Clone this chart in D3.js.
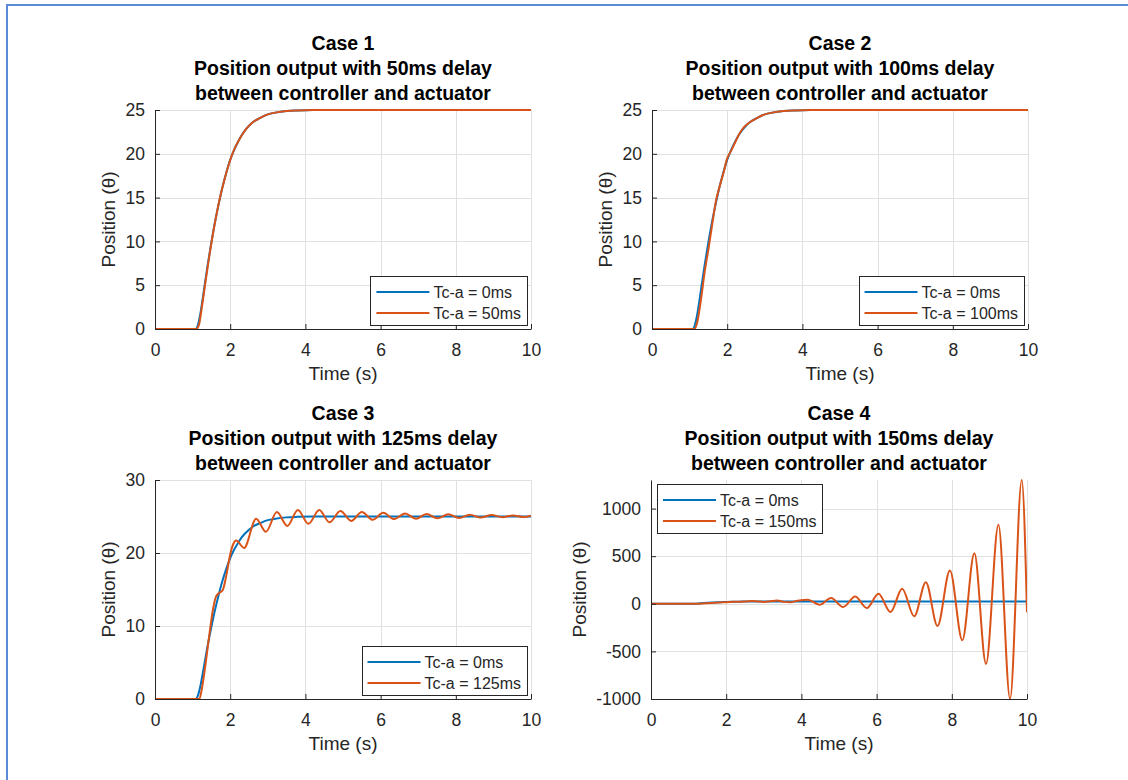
<!DOCTYPE html>
<html>
<head>
<meta charset="utf-8">
<script src="https://cdn.jsdelivr.net/npm/d3@7"></script>
<style>
  body { margin: 0; background: #ffffff; }
  svg { display: block; font-family: "Liberation Sans", Arial, Helvetica, sans-serif; }
</style>
</head>
<body>
<svg id="fig" width="1128" height="780"></svg>
<script>
// ---- Data -------------------------------------------------------------
const xTicks = [0, 2, 4, 6, 8, 10];

// Response with no controller-actuator delay (same in every case)
const baseTime  = [0, 1.0, 1.08, 1.15, 1.2, 1.3, 1.4, 1.5, 1.6, 1.7, 1.8, 1.9, 2.0, 2.1, 2.2, 2.3, 2.4, 2.5, 2.6, 2.8, 3.0, 3.2, 3.5, 3.8, 4.2, 5.0, 6.0, 8.0, 10.0];
const baseTheta = [0, 0, 0, 0.6, 1.6, 4.4, 7.3, 9.9, 12.3, 14.4, 16.3, 17.9, 19.3, 20.4, 21.3, 22.1, 22.7, 23.2, 23.6, 24.1, 24.5, 24.7, 24.88, 24.95, 24.99, 25, 25, 25, 25];

// Case 1: 50 ms delay
const case1Time  = [0, 1.1, 1.17, 1.25, 1.35, 1.45, 1.55, 1.65, 1.75, 1.85, 1.95, 2.05, 2.15, 2.25, 2.4, 2.6, 2.8, 3.0, 3.2, 3.5, 3.8, 4.2, 5, 10];
const case1Theta = [0, 0, 0.5, 2.6, 5.6, 8.5, 11.1, 13.4, 15.4, 17.1, 18.6, 19.9, 20.9, 21.7, 22.7, 23.6, 24.1, 24.5, 24.7, 24.88, 24.95, 24.99, 25, 25];

// Case 2: 100 ms delay
const case2Time  = [0, 1.13, 1.2, 1.3, 1.4, 1.5, 1.6, 1.7, 1.8, 1.9, 2.0, 2.1, 2.2, 2.3, 2.4, 2.6, 2.8, 3.0, 3.2, 3.5, 3.8, 4.2, 5, 10];
const case2Theta = [0, 0, 0.7, 3.3, 6.5, 9.1, 11.9, 14.6, 16.3, 17.8, 19.5, 20.3, 21.2, 22.1, 22.8, 23.6, 24.1, 24.5, 24.7, 24.88, 24.95, 24.99, 25, 25];

// Case 3: 125 ms delay
const case3Time  = [0, 1.18, 1.25, 1.35, 1.45, 1.55, 1.62, 1.7, 1.8, 1.9, 2.0, 2.08, 2.16, 2.37, 2.69, 2.95, 3.24, 3.52, 3.8, 4.08, 4.37, 4.64, 4.93, 5.22, 5.5, 5.79, 6.07, 6.36, 6.65, 6.94, 7.22, 7.51, 7.8, 8.09, 8.37, 8.66, 8.95, 9.24, 9.52, 9.81, 10];
const case3Theta = [0, 0, 1.5, 5, 9, 12.5, 14.0, 14.5, 14.9, 17, 19.8, 21.2, 21.7, 20.7, 24.7, 22.9, 25.6, 23.7, 25.9, 24.0, 25.9, 24.2, 25.75, 24.4, 25.6, 24.55, 25.5, 24.65, 25.4, 24.7, 25.35, 24.75, 25.3, 24.8, 25.25, 24.85, 25.2, 24.9, 25.15, 24.92, 25.1];

// Case 4: 150 ms delay
const case4Time  = [0, 1.15, 1.3, 1.5, 1.7, 1.9, 2.1, 2.3, 2.5, 2.7, 2.85, 3.0, 3.2, 3.35, 3.55, 3.7, 3.9, 4.17, 4.48, 4.79, 5.11, 5.43, 5.74, 6.05, 6.37, 6.68, 7.0, 7.31, 7.62, 7.95, 8.28, 8.6, 8.91, 9.24, 9.55, 9.86, 10.0];
const case4Theta = [0, 0, 1, 6, 12, 17, 20, 22, 25, 30, 24, 20, 28, 34, 20, 16, 33, 43, -10, 60, -34, 77, -45, 105, -87, 158, -132, 227, -233, 349, -383, 530, -631, 830, -1000, 1300, -90];

const caseTitles = ["Case 1", "Case 2", "Case 3", "Case 4"];
const delayLabels = ["50ms", "100ms", "125ms", "150ms"];
const legendLabels = [
  ["Tc-a = 0ms", "Tc-a = 50ms"],
  ["Tc-a = 0ms", "Tc-a = 100ms"],
  ["Tc-a = 0ms", "Tc-a = 125ms"],
  ["Tc-a = 0ms", "Tc-a = 150ms"]
];
const yTicks = [
  [0, 5, 10, 15, 20, 25],
  [0, 5, 10, 15, 20, 25],
  [0, 10, 20, 30],
  [-1000, -500, 0, 500, 1000]
];
const yDomains = [[0, 25], [0, 25], [0, 30], [-1000, 1300]];
const delayedTimes  = [case1Time, case2Time, case3Time, case4Time];
const delayedThetas = [case1Theta, case2Theta, case3Theta, case4Theta];

// ---- Layout -----------------------------------------------------------
const panels = [
  { left: 155, top: 110, right: 531, bottom: 329, legend: "se" },
  { left: 652, top: 110, right: 1028, bottom: 329, legend: "se" },
  { left: 155, top: 480, right: 531, bottom: 699, legend: "se" },
  { left: 651, top: 480, right: 1027, bottom: 699, legend: "nw" }
];

const COLORS = ["#0072BD", "#D95319"];
const AXIS_COLOR = "#262626";
const GRID_COLOR = "#e0e0e0";

const svg = d3.select("#fig");

// Frame lines along the top and left edges
svg.append("line").attr("x1", 6).attr("x2", 1128).attr("y1", 5).attr("y2", 5)
  .attr("stroke", "#5b8ad6").attr("stroke-width", 2);
svg.append("line").attr("x1", 7).attr("x2", 7).attr("y1", 4).attr("y2", 780)
  .attr("stroke", "#5b8ad6").attr("stroke-width", 2);

const toPoints = (ts, vs) => ts.map((t, i) => ({ t: t, v: vs[i] }));

panels.forEach((p, i) => {
  const g = svg.append("g");
  const x = d3.scaleLinear().domain([0, 10]).range([p.left, p.right]);
  const y = d3.scaleLinear().domain(yDomains[i]).range([p.bottom, p.top]);

  // grid
  g.append("g").selectAll("line").data(xTicks).join("line")
    .attr("x1", d => Math.round(x(d)) + 0.5).attr("x2", d => Math.round(x(d)) + 0.5)
    .attr("y1", p.top).attr("y2", p.bottom)
    .attr("stroke", GRID_COLOR).attr("stroke-width", 1);
  g.append("g").selectAll("line").data(yTicks[i]).join("line")
    .attr("y1", d => Math.round(y(d)) + 0.5).attr("y2", d => Math.round(y(d)) + 0.5)
    .attr("x1", p.left).attr("x2", p.right)
    .attr("stroke", GRID_COLOR).attr("stroke-width", 1);

  // data lines
  const clipId = "clip" + i;
  svg.append("clipPath").attr("id", clipId).append("rect")
    .attr("x", p.left).attr("y", p.top - 1).attr("width", p.right - p.left).attr("height", p.bottom - p.top + 2);
  const line = d3.line().x(d => x(d.t)).y(d => y(d.v)).curve(d3.curveMonotoneX);
  const series = [toPoints(baseTime, baseTheta), toPoints(delayedTimes[i], delayedThetas[i])];
  const lg = g.append("g").attr("clip-path", `url(#${clipId})`);
  series.forEach((s, k) => {
    lg.append("path").datum(s).attr("d", line)
      .attr("fill", "none").attr("stroke", COLORS[k]).attr("stroke-width", 2)
      .attr("stroke-linejoin", "round");
  });

  // axes
  const xAxis = d3.axisBottom(x).tickValues(xTicks).tickSize(-5).tickSizeOuter(0).tickPadding(15);
  const yAxis = d3.axisLeft(y).tickValues(yTicks[i]).tickSize(-5).tickSizeOuter(0).tickPadding(10)
    .tickFormat(d => String(d));
  const gx = g.append("g").attr("transform", `translate(0,${p.bottom})`).call(xAxis);
  const gy = g.append("g").attr("transform", `translate(${p.left},0)`).call(yAxis);
  [gx, gy].forEach(a => {
    a.select(".domain").attr("stroke", AXIS_COLOR).attr("stroke-width", 1);
    a.selectAll(".tick line").attr("stroke", AXIS_COLOR);
    a.selectAll(".tick text").attr("fill", AXIS_COLOR).attr("font-size", 17.5)
      .attr("font-family", null);
  });

  // axis labels
  g.append("text").attr("x", (p.left + p.right) / 2).attr("y", p.bottom + 51)
    .attr("text-anchor", "middle").attr("font-size", 19).attr("fill", AXIS_COLOR)
    .text("Time (s)");
  let minLeft = p.left;
  gy.selectAll(".tick text").each(function () {
    const b = this.getBBox();
    minLeft = Math.min(minLeft, p.left + b.x);
  });
  g.append("text")
    .attr("transform", `translate(${minLeft - 17},${(p.top + p.bottom) / 2}) rotate(-90)`)
    .attr("text-anchor", "middle").attr("dy", "0.35em")
    .attr("font-size", 19).attr("fill", AXIS_COLOR)
    .text("Position (θ)");

  // title
  const cx = (p.left + p.right) / 2;
  const titleLines = [caseTitles[i], `Position output with ${delayLabels[i]} delay`, "between controller and actuator"];
  titleLines.forEach((t, k) => {
    g.append("text").attr("x", cx).attr("y", p.top - 60 + k * 25)
      .attr("text-anchor", "middle").attr("font-size", 19.5).attr("font-weight", "bold")
      .attr("fill", "#000").text(t);
  });

  // legend
  const leg = g.append("g");
  const box = leg.append("rect").attr("fill", "#fff").attr("stroke", AXIS_COLOR).attr("stroke-width", 1);
  let maxW = 0;
  const texts = legendLabels[i].map((lab, k) => {
    const t = leg.append("text").attr("font-size", 16).attr("fill", AXIS_COLOR)
      .attr("dy", "0.35em").text(lab);
    maxW = Math.max(maxW, t.node().getComputedTextLength());
    return t;
  });
  const padL = 6, sampleW = 53, gap = 4, padR = 6, boxH = 49;
  const boxW = padL + sampleW + gap + maxW + padR;
  let bx, by;
  if (p.legend === "se") { bx = p.right - 4 - boxW; by = p.bottom - 4 - boxH; }
  else { bx = p.left + 6; by = p.top + 4; }
  box.attr("x", Math.round(bx) + 0.5).attr("y", Math.round(by) + 0.5)
    .attr("width", Math.round(boxW)).attr("height", boxH);
  legendLabels[i].forEach((lab, k) => {
    const ry = Math.round(by) + 16 + k * 21;
    leg.append("line").attr("x1", bx + padL).attr("x2", bx + padL + sampleW)
      .attr("y1", ry).attr("y2", ry).attr("stroke", COLORS[k]).attr("stroke-width", 2);
    texts[k].attr("x", bx + padL + sampleW + gap).attr("y", ry);
  });
});
</script>
</body>
</html>
